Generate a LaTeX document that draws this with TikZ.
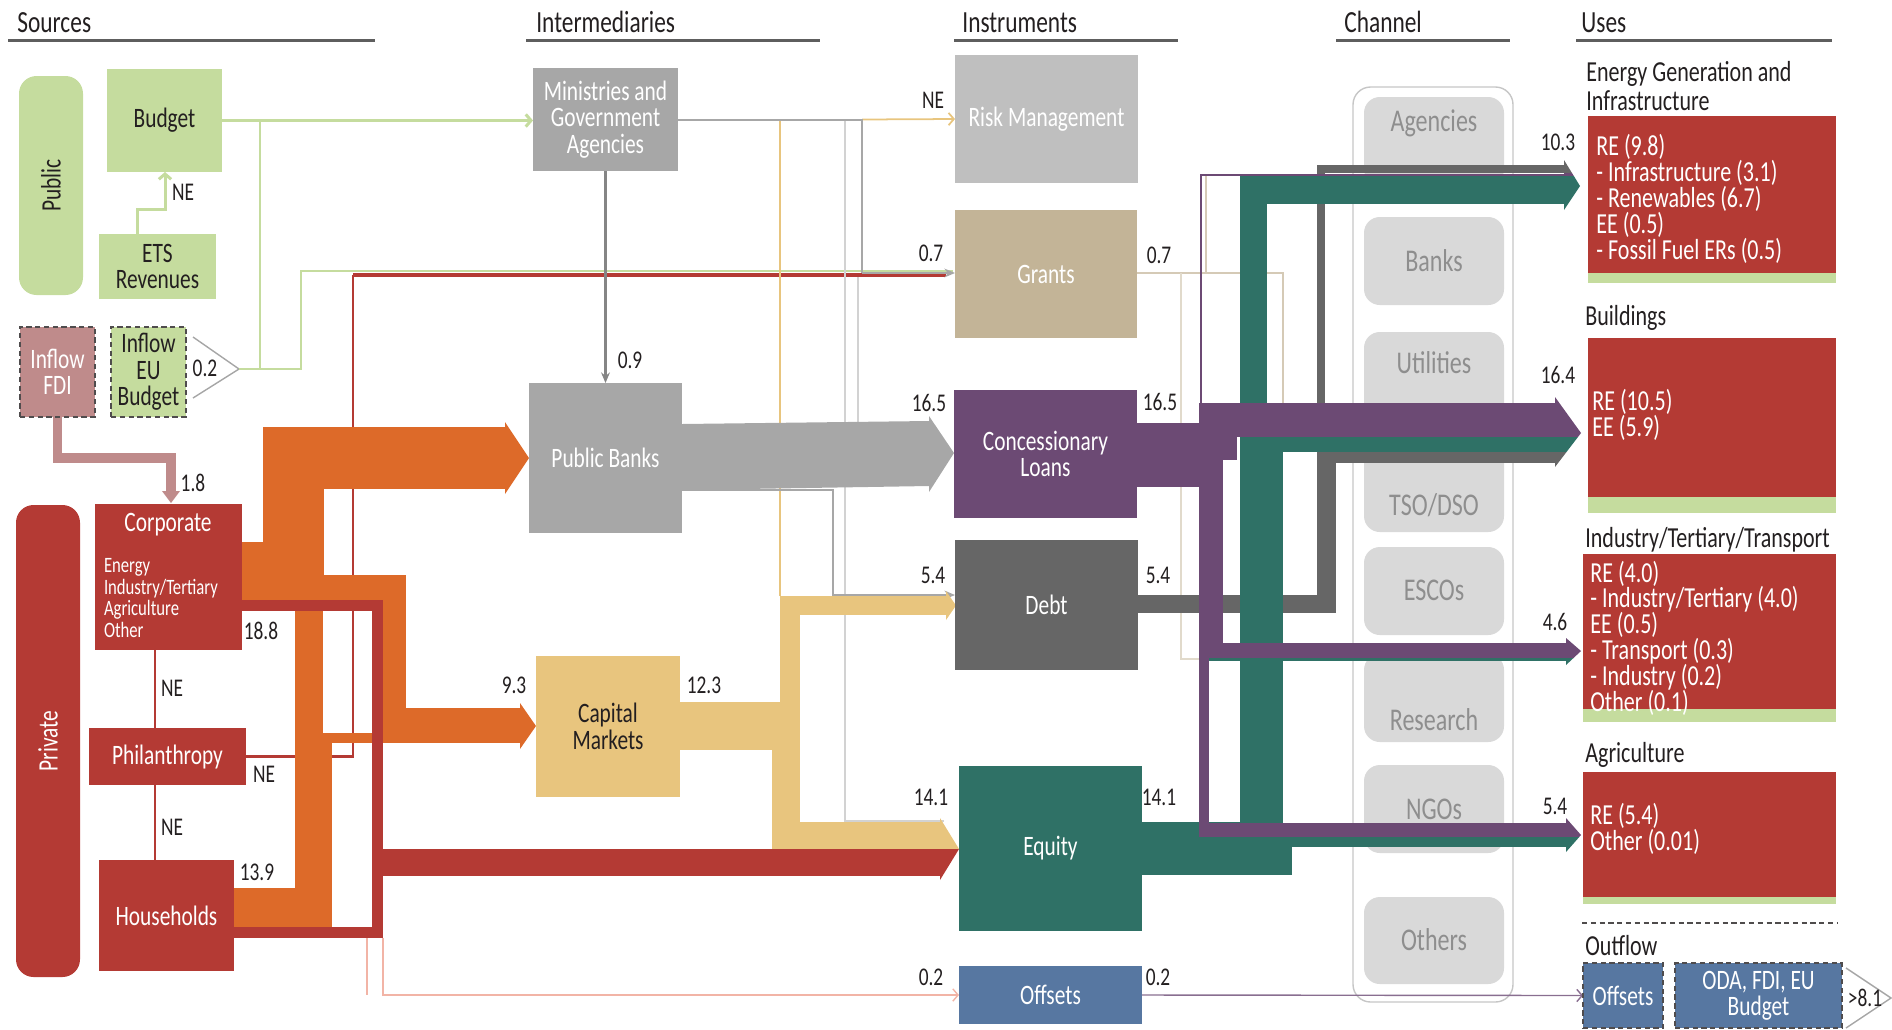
\documentclass[tikz,border=0pt]{standalone}
\usepackage{fontspec}
\setmainfont{Carlito}[FakeStretch=0.76]
\usetikzlibrary{positioning,calc,arrows.meta}

\definecolor{lgreen}{HTML}{C5DC9E}
\definecolor{fdipink}{HTML}{BF8B8B}
\definecolor{srcred}{HTML}{B43A34}
\definecolor{flowor}{HTML}{DD6A29}
\definecolor{midgray}{HTML}{A7A7A7}
\definecolor{riskgray}{HTML}{BFBFBF}
\definecolor{granttan}{HTML}{C3B497}
\definecolor{loanpurple}{HTML}{6C4A74}
\definecolor{debtgray}{HTML}{666666}
\definecolor{capyellow}{HTML}{E8C57E}
\definecolor{eqteal}{HTML}{2F7166}
\definecolor{offblue}{HTML}{5777A1}
\definecolor{chanfill}{HTML}{D9D9D9}
\definecolor{chantext}{HTML}{8E8E8E}
\definecolor{rulegray}{HTML}{5E5E5E}
\definecolor{salmon}{HTML}{F2B4A6}
\definecolor{txtblack}{HTML}{231F20}

\newcommand\bigtxt{\fontsize{16}{15}\selectfont\lineskiplimit=-50pt}
\newcommand\usestxt{\fontsize{16.5}{14.7}\selectfont\lineskiplimit=-50pt}
\newcommand\ttltxt{\fontsize{16.5}{16}\selectfont\lineskiplimit=-50pt}
\newcommand\hdtxt{\fontsize{17.5}{17.5}\selectfont}
\newcommand\numtxt{\fontsize{14.5}{14.5}\selectfont}
\newcommand\smalltxt{\fontsize{12.5}{12.3}\selectfont\lineskiplimit=-50pt}
\newcommand\chtxt{\fontsize{18}{18}\selectfont}

% box node from its pixel corners
\newcommand\blk[7]{\node[#6, minimum width={(#4-#2)*0.02cm}, minimum height={(#5-#3)*0.02cm}] (#1) at ({(#2+#4)/2},{(#3+#5)/2}) {#7};}

\pgfdeclarelayer{back}
\pgfdeclarelayer{flow}
\pgfsetlayers{back,flow,main}

\begin{document}
\begin{tikzpicture}[x=0.02cm, y=-0.02cm,
    box/.style={inner sep=0pt, outer sep=0pt, align=center, text=white, font=\bigtxt},
    darkbox/.style={box, text=txtblack},
    dashbox/.style={draw=txtblack!80, dashed, dash pattern=on 3pt off 2pt, line width=1.2pt},
    chanbox/.style={box, fill=chanfill, rounded corners=9pt},
    chanlbl/.style={inner sep=0pt, text=chantext, font=\chtxt},
    usebox/.style={box, fill=srcred},
    usetxt/.style={inner sep=0pt, align=left, anchor=west, text=white, font=\usestxt},
    title/.style={inner sep=0pt, align=left, anchor=west, text=txtblack, font=\ttltxt},
    head/.style={inner sep=0pt, anchor=base west, text=txtblack, font=\hdtxt},
    rule/.style={rulegray, line width=0.06cm},
    num/.style={inner sep=0pt, text=txtblack, font=\numtxt},
    barb/.style={-{Straight Barb[length=3pt,width=7pt]}},
    stl/.style={-{Stealth[length=6pt,width=5pt]}},
    thin/.style={line width=0.8pt}
  ]
\useasboundingbox (0,0) rectangle (1892,1029);

% headers
\node[head] (hsrc) at (17,32) {Sources};
\node[head] (hint) at (536,32) {Intermediaries};
\node[head] (hins) at (962,32) {Instruments};
\node[head] (hchan) at (1344,32) {Channel};
\node[head] (huse) at (1581,32) {Uses};
\draw[rule] (8,40) -- (375,40);
\draw[rule] (526,40) -- (820,40);
\draw[rule] (954,40) -- (1178,40);
\draw[rule] (1336,40) -- (1510,40);
\draw[rule] (1576,40) -- (1832,40);

% source boxes
\blk{pub}{19}{76}{83}{295}{darkbox, fill=lgreen, rounded corners=10pt}{}
\node[rotate=90, text=txtblack, font=\bigtxt] (pubL) at (pub.center) {Public};
\blk{priv}{16}{505}{80}{977}{box, fill=srcred, rounded corners=10pt}{}
\node[rotate=90, text=white, font=\bigtxt] (privL) at (priv.center) {Private};
\blk{budget}{107}{69}{222}{172}{darkbox, fill=lgreen}{Budget}
\blk{ets}{99}{234}{216}{299}{darkbox, fill=lgreen}{ETS\\Revenues}
\blk{infdi}{20}{327}{95}{417}{box, fill=fdipink, dashbox}{Inflow\\FDI}
\blk{ineu}{111}{327}{186}{417}{darkbox, fill=lgreen, dashbox}{Inflow\\EU\\Budget}
\blk{corp}{95}{504}{242}{650}{box, fill=srcred}{}
\node[box] (corpL) at (168,525) {Corporate};
\node[box, font=\smalltxt, align=left, anchor=west] (corpS) at (104,598) {Energy\\Industry/Tertiary\\Agriculture\\Other};
\blk{phil}{89}{728}{246}{785}{box, fill=srcred}{Philanthropy}
\blk{house}{99}{860}{234}{971}{box, fill=srcred}{Households}

% intermediaries
\blk{mgov}{533}{68}{678}{171}{box, fill=midgray}{Ministries and\\Government\\Agencies}
\blk{pbank}{529}{383}{682}{533}{box, fill=midgray}{Public Banks}
\blk{capm}{536}{656}{680}{797}{darkbox, fill=capyellow}{Capital\\Markets}

% instruments
\blk{risk}{955}{55}{1138}{183}{box, fill=riskgray}{Risk Management}
\blk{grants}{955}{210}{1137}{338}{box, fill=granttan}{Grants}
\blk{cloan}{954}{390}{1137}{518}{box, fill=loanpurple}{Concessionary\\Loans}
\blk{debt}{955}{540}{1138}{670}{box, fill=debtgray}{Debt}
\blk{equity}{959}{766}{1142}{931}{box, fill=eqteal}{Equity}
\blk{offs}{959}{966}{1142}{1024}{box, fill=offblue}{Offsets}

% uses
\node[title] (tEn) at (1586,86) {Energy Generation and\\Infrastructure};
\blk{useEn}{1588}{116}{1836}{273}{usebox}{}
\fill[lgreen] (useEn.south west) rectangle (1836,283);
\node[usetxt] (useEnT) at (1596,199) {RE (9.8)\\- Infrastructure (3.1)\\- Renewables (6.7)\\EE (0.5)\\- Fossil Fuel ERs (0.5)};

\node[title] (tBu) at (1585,318) {Buildings};
\blk{useBu}{1588}{338}{1836}{497}{usebox}{}
\fill[lgreen] (useBu.south west) rectangle (1836,513);
\node[usetxt] (useBuT) at (1592,415) {RE (10.5)\\EE (5.9)};

\node[title] (tIn) at (1585,540) {Industry/Tertiary/Transport};
\blk{useIn}{1583}{554}{1836}{709}{usebox}{}
\fill[lgreen] (useIn.south west) rectangle (1836,722);
\node[usetxt] (useInT) at (1590,638) {RE (4.0)\\- Industry/Tertiary (4.0)\\EE (0.5)\\- Transport (0.3)\\- Industry (0.2)\\Other (0.1)};

\node[title] (tAg) at (1585,755) {Agriculture};
\blk{useAg}{1583}{772}{1836}{897}{usebox}{}
\fill[lgreen] (useAg.south west) rectangle (1836,904);
\node[usetxt] (useAgT) at (1590,829) {RE (5.4)\\Other (0.01)};

\draw[txtblack!80, thin, dashed, dash pattern=on 3pt off 2pt] (1582,923) -- (1837,923);
\node[title] (tOut) at (1585,946) {Outflow};
\blk{ooff}{1583}{963}{1663}{1028}{box, fill=offblue, dashbox}{Offsets}
\blk{oda}{1675}{963}{1842}{1028}{box, fill=offblue, dashbox}{ODA, FDI, EU\\Budget}
\draw[gray!70, thin] (1846,968) -- (1891,998) -- (1846,1028);

% channel column
\begin{pgfonlayer}{back}
\blk{chan}{1353}{87}{1513}{1002}{box, draw=gray!45, line width=0.8pt, rounded corners=10pt}{}
\blk{chag}{1364}{97}{1504}{185}{chanbox}{}
\blk{chbk}{1364}{217}{1504}{305}{chanbox}{}
\blk{chut}{1364}{332}{1504}{420}{chanbox}{}
\blk{chts}{1364}{444}{1504}{532}{chanbox}{}
\blk{ches}{1364}{547}{1504}{635}{chanbox}{}
\blk{chre}{1364}{654}{1504}{742}{chanbox}{}
\blk{chng}{1364}{765}{1504}{853}{chanbox}{}
\blk{chot}{1364}{897}{1504}{984}{chanbox}{}
\node[chanlbl] (chagL) at (1434,123) {Agencies};
\node[chanlbl] (chbkL) at (1434,261) {Banks};
\node[chanlbl] (chutL) at (1434,363) {Utilities};
\node[chanlbl] (chtsL) at (1434,505) {TSO/DSO};
\node[chanlbl] (chesL) at (1434,590) {ESCOs};
\node[chanlbl] (chreL) at (1434,720) {Research};
\node[chanlbl] (chngL) at (1434,809) {NGOs};
\node[chanlbl] (chotL) at (1434,940) {Others};
\end{pgfonlayer}

\begin{pgfonlayer}{flow}
% public side connectors
\draw[lgreen, line width=0.06cm, barb] (ets.north -| 137,0) |- (165,209) -- (budget.south -| 165,0);
\draw[lgreen, line width=0.06cm, barb] (budget.east) -- (budget.east -| mgov.west);
\draw[lgreen, thin] (260,121) -- (260,369);
\draw[gray!70, thin] (193,337) -- (239,369) -- (193,398);
\draw[lgreen, thin] (239,369) -- (301,369) -- (301,271) -- (953,271);
\draw[fdipink, line width=0.2cm] (infdi.south) |- (171,458) -- (171,491);
\fill[fdipink] (162,491) -- (180,491) -- (171,503) -- cycle;
\draw[srcred, thin] (corp.south -| 155,0) -- (phil.north -| 155,0);
\draw[srcred, thin] (phil.south -| 155,0) -- (house.north -| 155,0);

% thin red from philanthropy to grants
\draw[srcred, line width=1.2pt] (phil.east) -| (353,275);
\draw[srcred, line width=0.08cm] (353,275) -- (946,275);
% households remainder to offsets
\draw[salmon, thin] (367,938) -- (367,995);
\draw[salmon, thin, barb] (383,938) -- (383,995) -- (offs.west);

% orange flows to public banks and capital markets
\fill[flowor] (242,542) rectangle (324,600);
\fill[flowor] (263,427) rectangle (324,600);
\fill[flowor] (263,427) rectangle (505,489);
\fill[flowor] (505,422) -- (529,458) -- (505,494) -- cycle;
\fill[flowor] (324,575) rectangle (406,600);
\fill[flowor] (383,575) rectangle (406,743);
\fill[flowor] (383,708) rectangle (520,743);
\fill[flowor] (520,703) -- (536,726) -- (520,749) -- cycle;
\fill[flowor] (233,888) rectangle (332,927);
\fill[flowor] (295,733) rectangle (332,927);
\fill[flowor] (295,600) rectangle (323,743);
\fill[flowor] (323,733) rectangle (383,743);

% red flows to equity
\fill[srcred] (242,600) rectangle (383,611);
\fill[srcred] (372,600) rectangle (383,938);
\fill[srcred] (233,927) rectangle (383,938);
\fill[srcred] (372,849) rectangle (940,876);

% ministries and public banks lines
\draw[debtgray!80, line width=0.05cm, stl] (mgov.south) -- (pbank.north);
\draw[gray!35, thin] (845,120) -- (845,821) -- (944,821);
\draw[gray!35, thin] (858,277) -- (858,422);
\draw[capyellow, line width=1pt] (780,596) -- (780,119.5);
\draw[capyellow, line width=1pt, barb] (862,119.5) -- (risk.west);
\draw[midgray, line width=0.04cm] (mgov.east) -- (862,119.5) -- (862,273);
\draw[midgray, line width=0.04cm, stl] (862,273) -- (grants.west |- 0,273);
\draw[midgray, line width=0.04cm, stl] (pbank.east |- 0,490) -| (833,595) -- (debt.west |- 0,595);
\fill[midgray] (682,424) -- (929,421) -- (929,416) -- (954,453) -- (929,492) -- (929,486) -- (682,490) -- cycle;

% capital markets flows
\fill[capyellow] (680,702) rectangle (780,750);
\fill[capyellow] (780,596) rectangle (800,750);
\fill[capyellow] (772,750) rectangle (800,849);
\fill[capyellow] (780,596) rectangle (946,615);
\fill[capyellow] (946,591) -- (956,605.5) -- (946,620) -- cycle;
\fill[capyellow] (772,822) rectangle (940,849);
\begin{scope}
  \clip (940,818) -- (959,849) -- (940,880) -- cycle;
  \fill[capyellow] (935,810) rectangle (962,849);
  \fill[srcred] (935,849) rectangle (962,885);
\end{scope}

% grants to uses (faint)
\draw[granttan!70, thin] (grants.east |- 0,273) -- (1283,273) -- (1283,403);
\draw[granttan!70, thin] (1206,273) -- (1206,176);
\draw[granttan!50, thin] (1181,273) -- (1181,659) -- (1199,659);

% debt flows
\fill[debtgray] (1138,595) rectangle (1336,613);
\fill[debtgray] (1317,452) rectangle (1336,613);
\fill[debtgray] (1317,165) rectangle (1325,452);
\fill[debtgray] (1317,165) rectangle (1564,173);
\fill[debtgray] (1317,452) rectangle (1555,463);

% equity flows
\fill[eqteal] (1142,822) rectangle (1283,875);
\fill[eqteal] (1283,847) rectangle (1292,875);
\fill[eqteal] (1240,437) rectangle (1283,837);
\fill[eqteal] (1240,176) rectangle (1267,452);
\fill[eqteal] (1240,176) rectangle (1564,204);
\fill[eqteal] (1240,437) rectangle (1555,452);
\fill[eqteal] (1283,837) rectangle (1566,847);
\fill[eqteal] (1209,658) rectangle (1566,661);

% concessionary loan flows
\fill[loanpurple] (1137,423) rectangle (1199,487);
\fill[loanpurple] (1199,403) rectangle (1237,460);
\fill[loanpurple] (1199,403) rectangle (1555,437);
\fill[loanpurple] (1199,460) rectangle (1223,658);
\fill[loanpurple] (1199,643) rectangle (1566,658);
\fill[loanpurple] (1199,658) rectangle (1209,837);
\fill[loanpurple] (1199,823) rectangle (1566,837);
\draw[loanpurple, line width=0.04cm] (1201,423) -- (1201,174.5) -- (1564,174.5);
\draw[loanpurple!80, thin, barb] (offs.east) -- (ooff.west);

% arrow heads into uses
\begin{scope}
  \clip (1564,160) -- (1580,186) -- (1564,210) -- cycle;
  \fill[debtgray] (1560,150) rectangle (1585,173);
  \fill[loanpurple] (1560,173) rectangle (1585,176);
  \fill[eqteal] (1560,176) rectangle (1585,215);
\end{scope}
\begin{scope}
  \clip (1555,397) -- (1581,433) -- (1555,467) -- cycle;
  \fill[loanpurple] (1550,390) rectangle (1585,437);
  \fill[eqteal] (1550,437) rectangle (1585,452);
  \fill[debtgray] (1550,452) rectangle (1585,470);
\end{scope}
\begin{scope}
  \clip (1566,638) -- (1581,651) -- (1566,665) -- cycle;
  \fill[loanpurple] (1560,630) rectangle (1585,658);
  \fill[eqteal] (1560,658) rectangle (1585,670);
\end{scope}
\begin{scope}
  \clip (1566,818) -- (1581,835) -- (1566,852) -- cycle;
  \fill[loanpurple] (1560,810) rectangle (1585,837);
  \fill[eqteal] (1560,837) rectangle (1585,860);
\end{scope}
\end{pgfonlayer}

% values
\node[num] (vne1) at (183,192) {NE};
\node[num] (v02a) at (205,368) {0.2};
\node[num] (v18) at (193,483) {1.8};
\node[num] (v188) at (261,631) {18.8};
\node[num] (vne2) at (172,688) {NE};
\node[num] (vne3) at (264,774) {NE};
\node[num] (vne4) at (172,827) {NE};
\node[num] (v139) at (257,872) {13.9};
\node[num] (v93) at (514,685) {9.3};
\node[num] (v123) at (704,685) {12.3};
\node[num] (v09) at (630,360) {0.9};
\node[num] (vne5) at (933,100) {NE};
\node[num] (v07a) at (931,253) {0.7};
\node[num] (v07b) at (1159,255) {0.7};
\node[num] (v165a) at (929,403) {16.5};
\node[num] (v165b) at (1160,402) {16.5};
\node[num] (v54a) at (933,575) {5.4};
\node[num] (v54b) at (1158,575) {5.4};
\node[num] (v141a) at (931,797) {14.1};
\node[num] (v141b) at (1159,797) {14.1};
\node[num] (v02b) at (931,977) {0.2};
\node[num] (v02c) at (1158,977) {0.2};
\node[num] (v103) at (1558,142) {10.3};
\node[num] (v164) at (1558,375) {16.4};
\node[num] (v46) at (1555,622) {4.6};
\node[num] (v54c) at (1555,806) {5.4};
\node[num] (v81) at (1865,998) {>8.1};
\end{tikzpicture}
\end{document}
